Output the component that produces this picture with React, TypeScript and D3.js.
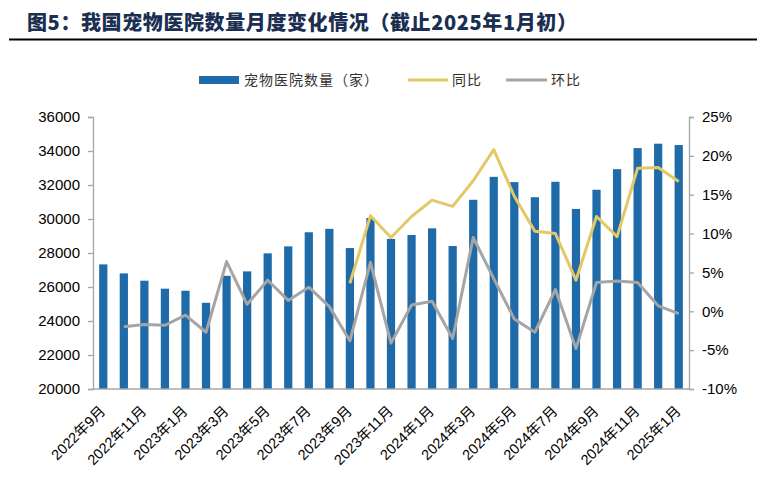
import { useEffect, useRef } from "react";
import * as d3 from "d3";

const months = [
  "2022年9月", "2022年10月", "2022年11月", "2022年12月",
  "2023年1月", "2023年2月", "2023年3月", "2023年4月", "2023年5月", "2023年6月",
  "2023年7月", "2023年8月", "2023年9月", "2023年10月", "2023年11月", "2023年12月",
  "2024年1月", "2024年2月", "2024年3月", "2024年4月", "2024年5月", "2024年6月",
  "2024年7月", "2024年8月", "2024年9月", "2024年10月", "2024年11月", "2024年12月",
  "2025年1月",
];

// 宠物医院数量（家）
const hospitals = [
  27330, 26800, 26370, 25900,
  25780, 25070, 26660, 26920, 27980, 28390,
  29220, 29420, 28290, 30060, 28830, 29060,
  29450, 28410, 31130, 32480, 32170, 31280,
  32190, 30590, 31720, 32930, 34170, 34430,
  34350,
];

// 同比 (%)
const yoy: (number | null)[] = [
  null, null, null, null,
  null, null, null, null, null, null,
  null, null, 3.6, 12.3, 9.5, 12.2,
  14.3, 13.5, 16.8, 20.8, 14.8, 10.3,
  10.0, 4.0, 12.2, 9.6, 18.4, 18.5,
  16.7,
];

// 环比 (%)
const mom: (number | null)[] = [
  null, -2.0, -1.7, -1.8,
  -0.5, -2.7, 6.4, 0.9, 4.0, 1.4,
  3.1, 0.6, -3.8, 6.3, -4.1, 0.8,
  1.3, -3.5, 9.5, 4.2, -1.0, -2.7,
  2.8, -4.8, 3.7, 3.9, 3.7, 0.7,
  -0.3,
];

const leftTicks = [20000, 22000, 24000, 26000, 28000, 30000, 32000, 34000, 36000];
const rightTicks = [-10, -5, 0, 5, 10, 15, 20, 25];

const W = 757;
const H = 479;
const BLUE = "#1f6aa8";
const GOLD = "#e3c866";
const GREY = "#a5a5a5";
const AXIS = "#a6a6a6";
const NUM_FONT = "'Liberation Sans', Arial, 'Noto Sans CJK SC', sans-serif";
const CJK_FONT = "'Noto Sans CJK SC', sans-serif";

export default function App(): JSX.Element {
  const ref = useRef<SVGSVGElement | null>(null);

  useEffect(() => {
    if (!ref.current) return;
    const svg = d3.select(ref.current);
    svg.selectAll("*").remove();

    const left = 93;
    const right = 689;
    const top = 117;
    const bottom = 389;

    const x = d3
      .scaleBand<number>()
      .domain(months.map((_, i) => i))
      .range([left, right])
      .paddingInner(0.6)
      .paddingOuter(0.3);
    const yL = d3.scaleLinear().domain([20000, 36000]).range([bottom, top]);
    const yR = d3.scaleLinear().domain([-10, 25]).range([bottom, top]);
    const cx = (i: number) => (x(i) ?? 0) + x.bandwidth() / 2;

    // title + rule
    svg
      .append("text")
      .attr("x", 27)
      .attr("y", 30)
      .attr("font-family", CJK_FONT)
      .attr("font-weight", 900)
      .attr("font-size", 20)
      .attr("letter-spacing", 0.6)
      .attr("fill", "#1b2f52")
      .text("图5：我国宠物医院数量月度变化情况（截止2025年1月初）");
    svg
      .append("line")
      .attr("x1", 9)
      .attr("x2", W)
      .attr("y1", 39.5)
      .attr("y2", 39.5)
      .attr("stroke", "#000")
      .attr("stroke-width", 2);

    // bars
    svg
      .append("g")
      .selectAll("rect")
      .data(hospitals)
      .join("rect")
      .attr("x", (_, i) => x(i) ?? 0)
      .attr("width", x.bandwidth())
      .attr("y", (d) => yL(d))
      .attr("height", (d) => bottom - yL(d))
      .attr("fill", BLUE);

    // lines on the right axis
    const line = d3
      .line<number | null>()
      .defined((d) => d !== null)
      .x((_, i) => cx(i))
      .y((d) => yR(d as number));
    svg
      .append("path")
      .attr("d", line(yoy))
      .attr("fill", "none")
      .attr("stroke", GOLD)
      .attr("stroke-width", 3)
      .attr("stroke-linejoin", "round");
    svg
      .append("path")
      .attr("d", line(mom))
      .attr("fill", "none")
      .attr("stroke", GREY)
      .attr("stroke-width", 3)
      .attr("stroke-linejoin", "round");

    // axes
    const styleAxis = (g: d3.Selection<SVGGElement, unknown, null, undefined>) => {
      g.selectAll(".domain").attr("stroke", AXIS).attr("stroke-width", 1.3);
      g.selectAll(".tick line").attr("stroke", AXIS).attr("stroke-width", 1.3);
      g.selectAll(".tick text")
        .attr("font-family", NUM_FONT)
        .attr("font-size", 15)
        .attr("fill", "#000");
    };

    svg
      .append("g")
      .attr("transform", `translate(${left},0)`)
      .call(
        d3.axisLeft(yL).tickValues(leftTicks).tickSize(5).tickSizeOuter(5).tickPadding(8).tickFormat((d) => String(d)),
      )
      .call(styleAxis);

    svg
      .append("g")
      .attr("transform", `translate(${right},0)`)
      .call(
        d3.axisRight(yR).tickValues(rightTicks).tickSize(5).tickSizeOuter(5).tickPadding(8).tickFormat((d) => `${d}%`),
      )
      .call(styleAxis);

    svg
      .append("line")
      .attr("x1", left)
      .attr("x2", right)
      .attr("y1", bottom)
      .attr("y2", bottom)
      .attr("stroke", AXIS)
      .attr("stroke-width", 1.3);

    // month labels, every second month
    svg
      .append("g")
      .selectAll("text")
      .data(months.map((m, i) => ({ m, i })).filter((d) => d.i % 2 === 0))
      .join("text")
      .attr("transform", (d) => `translate(${cx(d.i) + 3},${412}) rotate(-45)`)
      .attr("text-anchor", "end")
      .attr("font-family", NUM_FONT)
      .attr("font-size", 14.5)
      .attr("fill", "#000")
      .text((d) => d.m);

    // legend
    const lg = svg.append("g").attr("font-family", CJK_FONT).attr("font-size", 14).attr("fill", "#333");
    lg.append("rect").attr("x", 199).attr("y", 76).attr("width", 40).attr("height", 8).attr("fill", BLUE);
    lg.append("text").attr("x", 244).attr("y", 85).attr("letter-spacing", 1).text("宠物医院数量（家）");
    lg.append("line").attr("x1", 408).attr("x2", 448).attr("y1", 80).attr("y2", 80).attr("stroke", GOLD).attr("stroke-width", 3);
    lg.append("text").attr("x", 452).attr("y", 85).attr("letter-spacing", 1).text("同比");
    lg.append("line").attr("x1", 506).attr("x2", 547).attr("y1", 80).attr("y2", 80).attr("stroke", GREY).attr("stroke-width", 3);
    lg.append("text").attr("x", 551).attr("y", 85).attr("letter-spacing", 1).text("环比");
  }, []);

  return (
    <svg
      ref={ref}
      width={W}
      height={H}
      style={{ position: "absolute", left: 0, top: 0, background: "#fff" }}
    />
  );
}
